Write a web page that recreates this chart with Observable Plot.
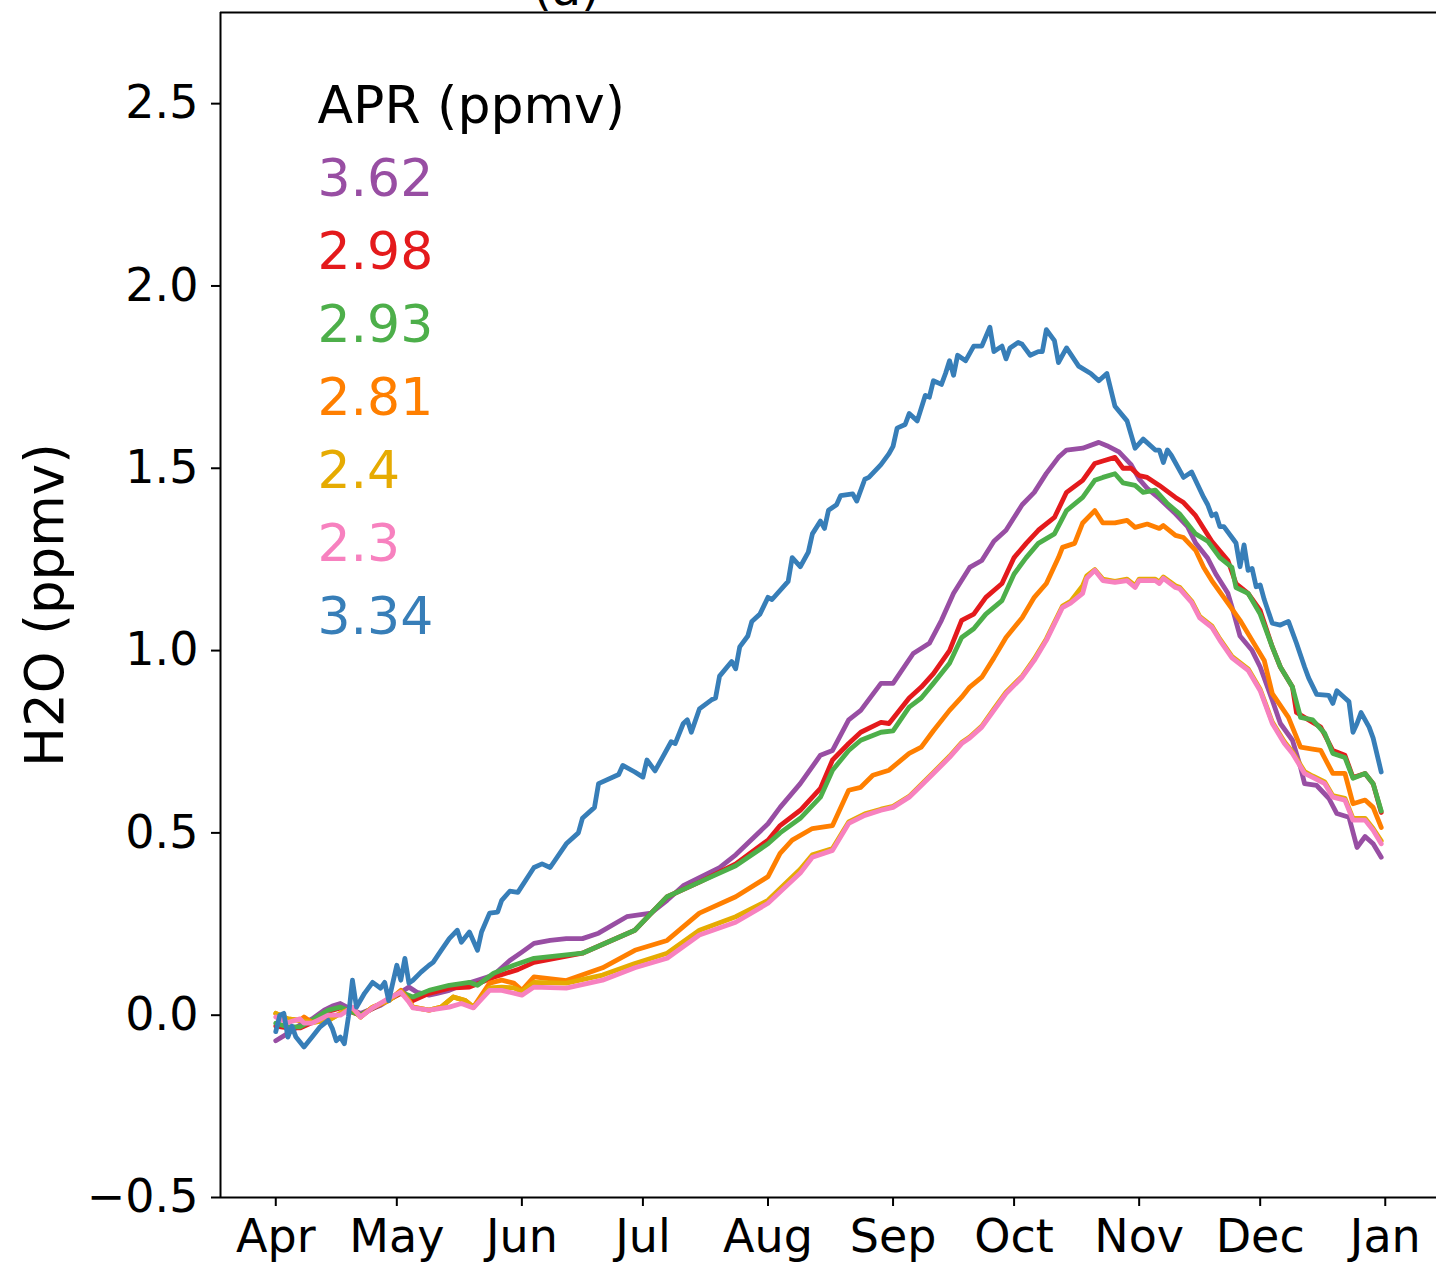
<!DOCTYPE html>
<html>
<head>
<meta charset="utf-8">
<script src="https://cdn.jsdelivr.net/npm/d3@7"></script>
<script src="https://cdn.jsdelivr.net/npm/@observablehq/plot@0.6"></script>
<style>
  html, body { margin: 0; padding: 0; background: #fff; overflow: hidden; }
  #chart svg { display: block; }
</style>
</head>
<body>
<div id="chart"></div>
<script>
// ---- Data (day offset from 1 April, H2O anomaly in ppmv) ----
const seriesLabels = ["3.62", "2.98", "2.93", "2.81", "2.4", "2.3", "3.34"];
const seriesColors = ["#984ea3", "#e41a1c", "#4daf4a", "#ff7f00", "#e6ab02", "#f781bf", "#377eb8"];
const legendTitle = "APR (ppmv)";
const yLabel = "H2O (ppmv)";
const panelTitle = "(a)";
const monthLabels = ["Apr", "May", "Jun", "Jul", "Aug", "Sep", "Oct", "Nov", "Dec", "Jan"];
const yTicks = [-0.5, 0.0, 0.5, 1.0, 1.5, 2.0, 2.5];
const yDomain = [-0.5, 2.75];
const xDomainDays = [-13.7, 287.7];

const purple = [[0,-0.07],[3,-0.05],[6,-0.027],[9,-0.01],[12,0.014],[14,0.025],[16,0.032],[18,0.02],[21,0.005],[26,0.027],[31,0.063],[33,0.077],[35,0.063],[38,0.055],[40,0.06],[43,0.068],[46,0.082],[50,0.096],[54,0.11],[58,0.15],[61,0.173],[64,0.197],[68,0.205],[72,0.21],[76,0.21],[80,0.225],[87,0.27],[93,0.28],[97,0.315],[101,0.355],[110,0.405],[114,0.44],[122,0.525],[125,0.57],[130,0.635],[135,0.713],[138,0.726],[142,0.81],[145,0.836],[150,0.91],[153,0.91],[158,0.992],[162,1.02],[165,1.083],[168,1.157],[172,1.228],[175,1.247],[178,1.30],[181,1.33],[185,1.40],[188,1.434],[191,1.486],[194,1.53],[196,1.55],[200,1.555],[204,1.571],[206,1.562],[209,1.545],[212,1.51],[214,1.47],[216,1.445],[219,1.417],[223,1.375],[226,1.34],[228,1.295],[231,1.253],[233,1.21],[236,1.157],[237,1.12],[239,1.04],[242,1.0],[244,0.955],[247,0.864],[249,0.80],[252,0.754],[254,0.68],[255,0.635],[258,0.63],[261,0.595],[263,0.553],[266,0.543],[268,0.46],[270,0.49],[272,0.47],[274,0.433]];

const red = [[0,-0.03],[3,-0.035],[6,-0.035],[9,-0.02],[13,0.01],[16,0.02],[21,0.0],[26,0.03],[31,0.06],[34,0.04],[38,0.06],[43,0.074],[48,0.077],[54,0.104],[60,0.125],[64,0.145],[76,0.17],[89,0.233],[97,0.325],[105,0.365],[114,0.415],[122,0.48],[125,0.52],[130,0.562],[135,0.622],[138,0.70],[142,0.745],[145,0.776],[150,0.803],[152,0.80],[157,0.87],[160,0.90],[163,0.937],[167,1.0],[170,1.083],[173,1.10],[176,1.146],[180,1.184],[183,1.255],[186,1.294],[189,1.33],[193,1.365],[196,1.434],[200,1.467],[203,1.513],[205,1.52],[208,1.53],[210,1.50],[212,1.50],[214,1.48],[216,1.475],[219,1.453],[223,1.42],[225,1.406],[228,1.37],[230,1.335],[232,1.30],[236,1.247],[238,1.184],[241,1.157],[244,1.11],[247,1.01],[249,0.955],[252,0.90],[253,0.83],[256,0.81],[259,0.79],[262,0.726],[265,0.713],[267,0.652],[270,0.663],[272,0.635],[274,0.556]];

const green = [[0,-0.022],[3,-0.032],[6,-0.032],[9,-0.014],[13,0.014],[16,0.022],[21,0.0],[26,0.032],[31,0.063],[34,0.05],[38,0.068],[43,0.082],[48,0.09],[50,0.082],[54,0.115],[59,0.137],[64,0.156],[76,0.17],[89,0.233],[97,0.325],[105,0.365],[114,0.41],[122,0.47],[125,0.50],[130,0.54],[135,0.598],[138,0.672],[142,0.726],[145,0.754],[150,0.776],[153,0.78],[157,0.845],[160,0.87],[163,0.91],[167,0.965],[170,1.036],[173,1.06],[176,1.10],[180,1.137],[183,1.21],[186,1.255],[189,1.294],[193,1.32],[196,1.384],[200,1.42],[203,1.467],[205,1.475],[208,1.485],[210,1.46],[213,1.453],[215,1.434],[218,1.44],[221,1.403],[224,1.375],[228,1.32],[231,1.30],[234,1.255],[237,1.228],[238,1.173],[241,1.157],[244,1.10],[247,1.01],[249,0.955],[252,0.90],[254,0.817],[257,0.81],[260,0.773],[262,0.718],[265,0.707],[267,0.65],[270,0.663],[272,0.635],[274,0.56]];

const orange = [[0,0.005],[3,-0.01],[6,-0.014],[7,-0.005],[9,-0.02],[13,-0.014],[16,0.005],[19,0.02],[21,-0.005],[24,0.022],[28,0.04],[31,0.068],[33,0.04],[34,0.022],[38,0.014],[41,0.022],[44,0.05],[47,0.04],[49,0.022],[53,0.088],[56,0.096],[59,0.088],[61,0.068],[64,0.105],[72,0.095],[81,0.13],[89,0.178],[97,0.205],[105,0.28],[114,0.325],[122,0.38],[125,0.444],[128,0.48],[133,0.512],[138,0.52],[142,0.617],[145,0.625],[148,0.658],[152,0.672],[157,0.718],[160,0.735],[163,0.78],[167,0.836],[170,0.872],[172,0.90],[175,0.927],[178,0.98],[181,1.036],[185,1.09],[188,1.146],[191,1.184],[194,1.255],[195,1.283],[198,1.294],[200,1.35],[203,1.384],[205,1.35],[208,1.35],[211,1.357],[213,1.338],[216,1.347],[219,1.335],[220,1.343],[223,1.316],[225,1.31],[228,1.275],[230,1.228],[232,1.192],[236,1.13],[239,1.083],[242,1.028],[245,0.973],[247,0.882],[251,0.817],[254,0.735],[257,0.73],[259,0.726],[262,0.663],[265,0.663],[267,0.58],[270,0.59],[272,0.57],[274,0.515]];

const gold = [[0,0.005],[3,-0.01],[6,-0.014],[9,-0.02],[13,-0.014],[16,0.005],[19,0.02],[21,-0.005],[24,0.022],[28,0.04],[31,0.065],[33,0.04],[34,0.022],[38,0.014],[41,0.022],[44,0.05],[47,0.04],[49,0.022],[53,0.075],[56,0.077],[59,0.075],[61,0.065],[64,0.09],[72,0.088],[81,0.11],[89,0.142],[97,0.17],[105,0.233],[114,0.27],[122,0.315],[130,0.40],[133,0.44],[138,0.457],[142,0.53],[146,0.552],[150,0.565],[153,0.573],[157,0.60],[160,0.633],[163,0.666],[167,0.71],[170,0.748],[172,0.763],[175,0.793],[178,0.84],[181,0.886],[185,0.93],[188,0.977],[191,1.032],[195,1.122],[197,1.135],[200,1.178],[201,1.205],[203,1.222],[205,1.196],[208,1.19],[211,1.196],[213,1.178],[214,1.196],[218,1.196],[219,1.188],[220,1.202],[223,1.178],[224,1.174],[227,1.136],[229,1.094],[232,1.068],[234,1.032],[237,0.984],[241,0.95],[244,0.894],[247,0.804],[250,0.75],[252,0.722],[255,0.668],[257,0.656],[260,0.64],[262,0.602],[265,0.595],[267,0.54],[270,0.54],[272,0.512],[274,0.478]];

const pink = [[0,-0.005],[3,-0.02],[6,-0.01],[7,-0.022],[9,-0.022],[13,0.0],[16,0.0],[19,0.022],[21,-0.005],[24,0.02],[28,0.046],[31,0.063],[33,0.036],[34,0.02],[38,0.014],[43,0.022],[46,0.032],[49,0.02],[53,0.068],[56,0.068],[61,0.055],[64,0.077],[72,0.074],[81,0.096],[89,0.13],[97,0.156],[105,0.22],[114,0.255],[122,0.307],[130,0.39],[133,0.433],[138,0.452],[142,0.526],[146,0.548],[150,0.562],[153,0.57],[157,0.598],[160,0.63],[163,0.663],[167,0.707],[170,0.745],[172,0.76],[175,0.79],[178,0.836],[181,0.882],[185,0.927],[188,0.973],[191,1.028],[195,1.118],[197,1.13],[200,1.157],[201,1.198],[203,1.22],[205,1.192],[208,1.187],[211,1.192],[213,1.173],[214,1.192],[218,1.192],[219,1.184],[220,1.198],[223,1.173],[224,1.17],[227,1.132],[229,1.09],[232,1.064],[234,1.028],[237,0.98],[241,0.946],[244,0.89],[247,0.80],[250,0.745],[252,0.718],[255,0.663],[257,0.652],[260,0.635],[262,0.598],[265,0.59],[267,0.535],[270,0.535],[272,0.507],[274,0.47]];

const blue = [[0,-0.045],[1,0.0],[2,0.005],[3,-0.06],[4,-0.03],[5,-0.06],[7,-0.087],[9,-0.06],[11,-0.032],[13,-0.014],[14,-0.036],[15,-0.07],[16,-0.06],[17,-0.078],[18,-0.005],[19,0.096],[20,0.022],[22,0.06],[24,0.09],[26,0.074],[27,0.09],[28,0.04],[30,0.137],[31,0.096],[32,0.156],[33,0.088],[34,0.096],[36,0.118],[38,0.137],[39,0.145],[41,0.178],[43,0.21],[45,0.233],[46,0.20],[48,0.228],[50,0.178],[51,0.228],[53,0.28],[55,0.283],[56,0.315],[58,0.34],[60,0.337],[64,0.405],[66,0.415],[68,0.405],[72,0.47],[75,0.50],[76,0.54],[79,0.57],[80,0.635],[85,0.66],[86,0.685],[89,0.667],[91,0.653],[92,0.70],[94,0.67],[96,0.71],[98,0.75],[99,0.745],[101,0.80],[102,0.81],[103,0.776],[105,0.84],[108,0.865],[109,0.87],[110,0.93],[113,0.97],[114,0.95],[115,1.01],[117,1.04],[118,1.08],[120,1.10],[122,1.146],[123,1.14],[127,1.19],[128,1.255],[130,1.23],[132,1.27],[133,1.32],[135,1.355],[136,1.335],[137,1.385],[139,1.40],[140,1.425],[143,1.43],[144,1.41],[146,1.47],[147,1.475],[150,1.51],[152,1.54],[153,1.56],[154,1.61],[156,1.62],[157,1.65],[159,1.63],[161,1.70],[162,1.695],[163,1.74],[165,1.73],[166,1.76],[167,1.795],[168,1.755],[169,1.81],[171,1.795],[172,1.815],[173,1.835],[175,1.835],[177,1.887],[178,1.82],[180,1.835],[181,1.80],[182,1.83],[184,1.845],[185,1.84],[187,1.81],[189,1.82],[190,1.82],[191,1.88],[193,1.85],[194,1.79],[196,1.83],[199,1.78],[202,1.76],[204,1.74],[206,1.76],[208,1.67],[211,1.63],[213,1.555],[215,1.58],[218,1.55],[219,1.55],[220,1.516],[221,1.55],[222,1.535],[225,1.475],[227,1.49],[230,1.42],[231,1.40],[232,1.37],[233,1.375],[234,1.34],[235,1.34],[237,1.31],[238,1.295],[239,1.23],[240,1.29],[241,1.22],[242,1.225],[243,1.175],[244,1.18],[245,1.14],[247,1.075],[249,1.07],[251,1.08],[253,1.02],[255,0.955],[256,0.925],[258,0.88],[261,0.877],[262,0.855],[263,0.89],[265,0.87],[266,0.86],[267,0.776],[268,0.80],[269,0.83],[271,0.79],[272,0.76],[274,0.667]];

const allSeries = [purple, red, green, orange, gold, pink, blue];

// ---- Build ----
const base = Date.UTC(2018, 3, 1);
const toDate = d => new Date(base + d * 864e5);
const monthTicks = monthLabels.map((m, i) => new Date(Date.UTC(2018, 3 + i, 1)));
const xDomain = xDomainDays.map(toDate);

const rows = allSeries.map((s, k) => s.map(([d, v]) => ({date: toDate(d), value: v, series: seriesLabels[k]})));

const marks = [
  Plot.ruleY([yDomain[0]], {stroke: "black", strokeWidth: 2}),
  Plot.ruleY([yDomain[1]], {stroke: "black", strokeWidth: 2}),
  Plot.ruleX([xDomain[0]], {stroke: "black", strokeWidth: 2}),
  Plot.axisX({ticks: monthTicks, tickFormat: d3.utcFormat("%b"), tickSize: 9, tickPadding: 13, fontSize: 46, strokeWidth: 2, label: null}),
  Plot.axisY({ticks: yTicks, tickFormat: d3.format(".1f"), tickSize: 9, tickPadding: 13, fontSize: 46, strokeWidth: 2, label: null}),
  ...rows.map((r, k) => Plot.line(r, {x: "date", y: "value", stroke: seriesColors[k], strokeWidth: 4.8, strokeLinejoin: "round"})),
  Plot.text([legendTitle], {frameAnchor: "top-left", dx: 97, dy: 110, fontSize: 52, fill: "black", textAnchor: "start", lineAnchor: "bottom"}),
  ...seriesLabels.map((lab, i) => Plot.text([lab], {frameAnchor: "top-left", dx: 97, dy: 110 + (i + 1) * 73, fontSize: 52, fill: seriesColors[i], textAnchor: "start", lineAnchor: "bottom"})),
  Plot.text([yLabel], {frameAnchor: "left", rotate: -90, dx: -174, fontSize: 53, fill: "black", textAnchor: "middle", lineAnchor: "middle"}),
  Plot.text([panelTitle], {frameAnchor: "top-left", dx: 346, dy: -8, fontSize: 48, fill: "black", textAnchor: "middle", lineAnchor: "bottom"})
];

const chart = Plot.plot({
  width: 1436,
  height: 1270,
  marginLeft: 220,
  marginRight: 0,
  marginTop: 12,
  marginBottom: 73,
  style: {fontFamily: "'DejaVu Sans', sans-serif", color: "black", background: "white"},
  x: {type: "utc", domain: xDomain},
  y: {domain: yDomain},
  marks
});
document.getElementById("chart").appendChild(chart);
</script>
</body>
</html>
